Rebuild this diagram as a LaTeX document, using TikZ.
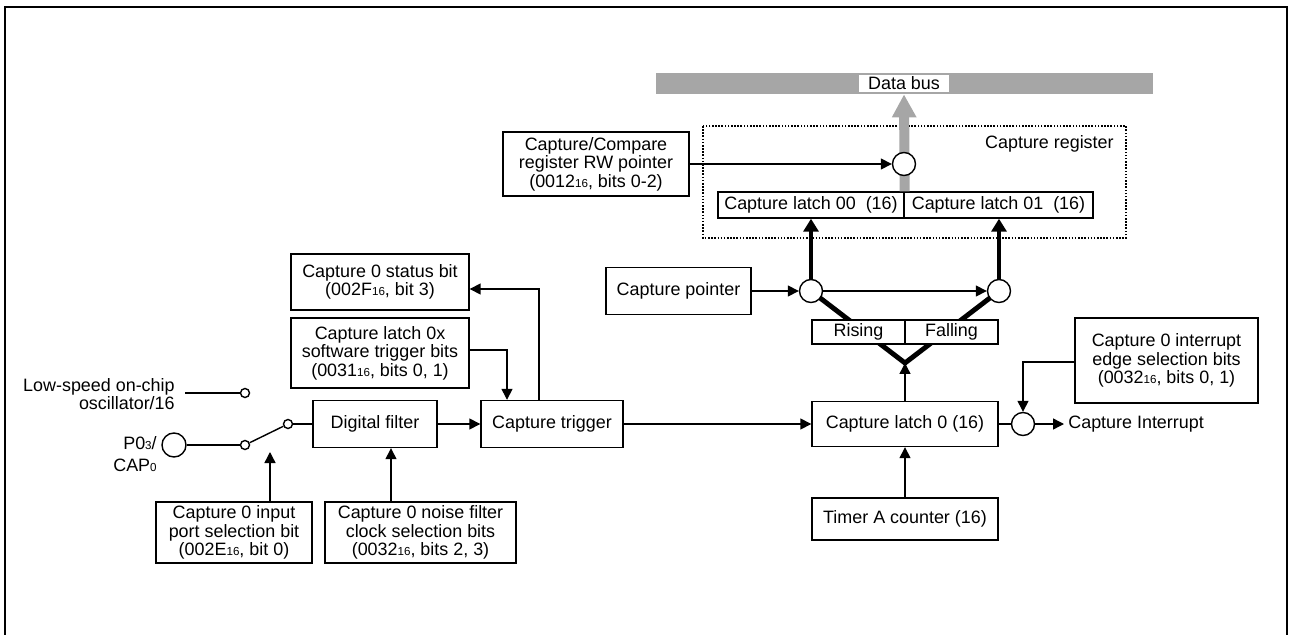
\documentclass[tikz,border=0pt]{standalone}
\usepackage{fontspec}
\setmainfont{Liberation Sans}
\usetikzlibrary{arrows.meta}
\definecolor{busgray}{RGB}{166,166,166}
\newcommand\fnt{\fontsize{10.2}{10.6}\selectfont}
\newcommand\subn[1]{{\fontsize{6.6}{7}\selectfont #1}}
\begin{document}
\begin{tikzpicture}[x=0.02cm,y=-0.02cm,
  box/.style={draw, line width=0.8pt, fill=white, align=center, inner sep=0pt, font=\fnt},
  junc/.style={circle, draw, line width=0.8pt, fill=white, minimum size=0.46cm, inner sep=0pt},
  pin/.style={circle, draw, line width=0.8pt, fill=white, minimum size=0.18cm, inner sep=0pt},
  wire/.style={line width=0.8pt},
  arr/.style={wire, -{Triangle[length=0.22cm,width=0.22cm]}},
  fat/.style={line width=2.8pt},
  fatarr/.style={fat, -{Triangle[length=0.26cm,width=0.3cm]}},
  lbl/.style={font=\fnt, inner sep=0pt, align=center}]

\useasboundingbox (0,0) rectangle (1289,635);
\draw[line width=1.6pt] (5,635) -- (5,7) -- (1287,7) -- (1287,635);

% data bus
\fill[busgray] (656,73) rectangle (1153,94);
\node[lbl, fill=white, minimum width=1.8cm, minimum height=0.34cm] (bus) at (904,83.5) {Data bus};

% capture register (dotted)
\draw[line width=0.9pt, dash pattern=on 0.9pt off 0.9pt] (703,126) rectangle (1126,238);
\node[lbl, anchor=east] (creg) at (1114,144) {Capture register};

\node[box, minimum width=3.72cm, minimum height=0.52cm] (l00) at (811,205) {Capture latch 00~~(16)};
\node[box, minimum width=3.78cm, minimum height=0.52cm] (l01) at (998.5,205) {Capture latch 01~~(16)};

\coordinate (bustip) at ([yshift=-0.04cm]bus.south);
\draw[line width=5.7pt, busgray, -{Triangle[length=0.46cm,width=0.46cm]}] (l00.north east) -- (bustip);

\node[box, minimum width=3.72cm, minimum height=1.28cm] (ccrw) at (596,164) {Capture/Compare\\register RW pointer\\(0012\subn{16}, bits 0-2)};
\node[junc] (rwc) at (904,164) {};
\draw[arr] (ccrw) -- (rwc);

% rising / falling selection
\coordinate (cLc) at (811,291);
\coordinate (cRc) at (999,291);
\coordinate (apex) at (905,363);
\draw[fat, line join=miter] (cLc) -- (apex) -- (cRc);
\node[box, minimum width=1.86cm, minimum height=0.48cm] (rise) at (858.5,332) {Rising};
\node[box, minimum width=1.86cm, minimum height=0.48cm] (fall) at (951.5,332) {Falling};
\node[junc] (cL) at (cLc) {};
\node[junc] (cR) at (cRc) {};
\draw[fatarr] (cL) -- (cL |- l00.south);
\draw[fatarr] (cR) -- (cR |- l01.south);

\node[box, minimum width=2.9cm, minimum height=0.94cm] (ptr) at (678.5,291) {Capture pointer};
\draw[arr] (ptr) -- (cL);
\draw[arr] (cL) -- (cR);

% main path
\node[box, minimum width=2.48cm, minimum height=0.94cm] (dfil) at (375,424) {Digital filter};
\node[box, minimum width=2.84cm, minimum height=0.94cm] (trig) at (552,424) {Capture trigger};
\draw[arr] (dfil) -- (trig);
\node[box, minimum width=3.72cm, minimum height=0.9cm] (l0) at (905,424) {Capture latch 0 (16)};
\draw[arr] (trig) -- (l0);
\draw[arr] (l0) -- (apex);
\node[box, minimum width=3.72cm, minimum height=0.84cm] (timer) at (905,519) {Timer A counter (16)};
\draw[arr] (timer) -- (l0);

% interrupt
\node[junc] (intc) at (1023,424) {};
\draw[wire] (l0) -- (intc);
\coordinate (intout) at (1064,424);
\draw[arr] (intc) -- (intout);
\node[lbl, anchor=west] (intl) at (1068,424) {Capture Interrupt};
\node[box, minimum width=3.66cm, minimum height=1.7cm] (edge) at (1166.5,360.5) {Capture 0 interrupt\\edge selection bits\\(0032\subn{16}, bits 0, 1)};
\draw[arr] ([yshift=-0.03cm]edge.west) -| (intc.north);

% status / software trigger
\node[box, minimum width=3.56cm, minimum height=1.12cm] (stat) at (380,282) {Capture 0 status bit\\(002F\subn{16}, bit 3)};
\node[box, minimum width=3.56cm, minimum height=1.4cm] (swt) at (380,353) {Capture latch 0x\\software trigger bits\\(0031\subn{16}, bits 0, 1)};
\draw[arr] ([xshift=-0.26cm]trig.north) |- ([yshift=-0.14cm]stat.east);
\draw[arr] ([yshift=0.06cm]swt.east) -| ([xshift=-0.9cm]trig.north);

% input selection
\node[junc, minimum size=0.48cm] (p0) at (174,445) {};
\node[lbl, anchor=east, align=right] (p0l) at (157,454.5) {P0\subn{3}/\\[2pt]CAP\subn{0}};
\node[pin] (s1) at (245,393) {};
\node[pin] (s2) at (245,445) {};
\node[pin] (s3) at (288,424) {};
\node[lbl, anchor=east, align=right] (lsl) at (175,394) {Low-speed on-chip\\oscillator/16};
\coordinate (lsrc) at (185,393);
\draw[wire] (lsrc) -- (s1);
\draw[wire] (p0) -- (s2);
\draw[wire] (s2) -- (s3);
\draw[wire] (s3) -- (dfil);

\node[box, minimum width=3.12cm, minimum height=1.22cm] (insel) at (234,532.5) {Capture 0 input\\port selection bit\\(002E\subn{16}, bit 0)};
\node[box, minimum width=3.82cm, minimum height=1.22cm] (nsel) at (420.5,532.5) {Capture 0 noise filter\\clock selection bits\\(0032\subn{16}, bits 2, 3)};
\coordinate (swtip) at (270,452);
\draw[arr] (insel.north -| swtip) -- (swtip);
\coordinate (nfin) at ([xshift=0.32cm]dfil.south);
\draw[arr] (nfin |- nsel.north) -- (nfin);
\end{tikzpicture}
\end{document}
